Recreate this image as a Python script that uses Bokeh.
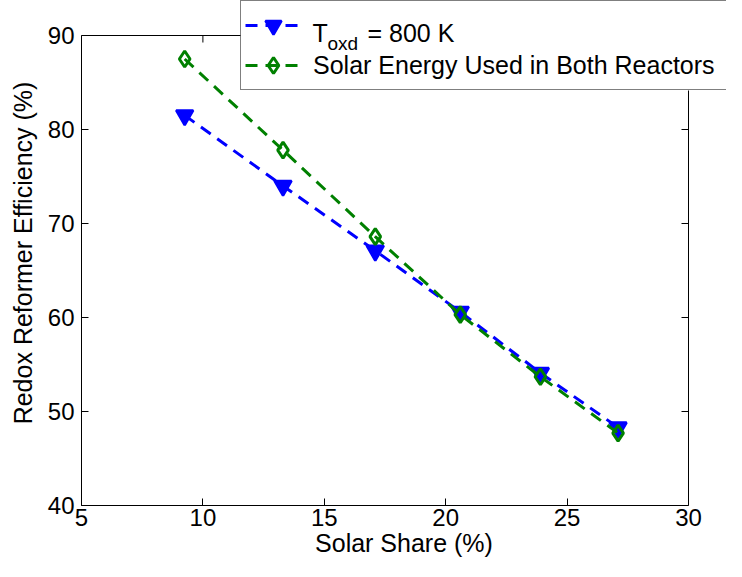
from bokeh.plotting import figure
from bokeh.models import Range1d, Legend, LegendItem, FixedTicker
from bokeh.core.properties import value
from bokeh.embed import file_html
from bokeh.resources import INLINE

# ---- data ----
solar_share = [9.25, 13.3, 17.1, 20.6, 23.9, 27.1]
eff_800K = [81.5, 74.0, 67.1, 60.6, 54.1, 48.3]
eff_both = [87.5, 77.8, 68.6, 60.3, 53.7, 47.7]
x_ticks = [5, 10, 15, 20, 25, 30]
y_ticks = [40, 50, 60, 70, 80, 90]
label_both = "Solar Energy Used in Both Reactors"

FONT = "Liberation Sans"

# ---- layout (pixels on the canvas) ----
W, H = 726, 561
LEFT, BOTTOM_PX, TOP_PX = 81, 505, 35          # frame left, y=40 line, y=90 line
RIGHT_PX = 688                                  # x=30 line
kx = (RIGHT_PX - LEFT) / (x_ticks[-1] - x_ticks[0])
ky = (BOTTOM_PX - TOP_PX) / (y_ticks[-1] - y_ticks[0])
x_end = x_ticks[-1] + (W - RIGHT_PX) / kx
y_end = y_ticks[-1] + TOP_PX / ky

def dx(px):
    return x_ticks[0] + (px - LEFT) / kx

def dy(py):
    return y_ticks[0] + (BOTTOM_PX - py) / ky

p = figure(width=W, height=H, output_backend="svg", toolbar_location=None,
           x_range=Range1d(x_ticks[0], x_end), y_range=Range1d(y_ticks[0], y_end),
           min_border_left=LEFT, min_border_right=0, min_border_top=0,
           min_border_bottom=H - BOTTOM_PX,
           background_fill_color="white", border_fill_color="white")
p.xgrid.visible = False
p.ygrid.visible = False
p.outline_line_color = None

for ax, ticks in ((p.xaxis[0], x_ticks), (p.yaxis[0], y_ticks)):
    ax.ticker = FixedTicker(ticks=ticks)
    ax.bounds = (ticks[0], ticks[-1])
    ax.axis_line_color = "black"
    ax.axis_line_width = 1
    ax.major_tick_in = 7
    ax.major_tick_out = 0
    ax.minor_tick_line_color = None
    ax.major_tick_line_color = "black"
    ax.major_label_text_font = FONT
    ax.major_label_text_font_size = "24px"
    ax.major_label_text_color = "black"
    ax.axis_label_text_font = FONT
    ax.axis_label_text_font_size = "25px"
    ax.axis_label_text_font_style = "normal"
    ax.axis_label_text_color = "black"
p.xaxis.major_label_standoff = 3
p.yaxis.major_label_standoff = 7
p.xaxis.axis_label = "Solar Share (%)"
p.yaxis.axis_label = "Redox Reformer Efficiency (%)"
p.xaxis.axis_label_standoff = 0
p.yaxis.axis_label_standoff = 8

# axes box (top and right edges) with inward ticks
p.quad(left=x_ticks[0], right=x_ticks[-1], bottom=y_ticks[0], top=y_ticks[-1],
       fill_color=None, line_color="black", line_width=1)
inner_x = x_ticks[1:-1]
inner_y = y_ticks[1:-1]
p.segment(x0=inner_x, y0=[y_ticks[-1]] * len(inner_x), x1=inner_x,
          y1=[y_ticks[-1] - 7 / ky] * len(inner_x), line_color="black", line_width=1)
p.segment(x0=[x_ticks[-1]] * len(inner_y), y0=inner_y, x1=[x_ticks[-1] - 7 / kx] * len(inner_y),
          y1=inner_y, line_color="black", line_width=1)

# data series
blue_line = p.line(solar_share, eff_800K, line_color="#0000ff", line_width=3, line_dash="12 8")
blue_mark = p.scatter(solar_share, eff_800K, marker="inverted_triangle", size=17,
                      fill_color="#0000ff", line_color="#0000ff", line_width=2.5)
green_line = p.line(solar_share, eff_both, line_color="#008000", line_width=3, line_dash="12 8")
green_mark = p.scatter(solar_share, eff_both, marker="diamond", size=16,
                       fill_color=None, line_color="#008000", line_width=3)

# ---- legend box (white backing drawn under the legend, then legend on top) ----
LG_L, LG_T, LG_B = 240, 2, 90
PAD, GW, STAND = 4, 56, 12
LG_R = W - 1
p.quad(left=dx(LG_L), right=dx(LG_R), top=dy(LG_T), bottom=dy(LG_B),
       fill_color="white", line_color=None)

text_x0 = LG_L + PAD + GW + STAND
p.text(x=[dx(text_x0)], y=[dy(32)], text=["T"], text_font=value(FONT), text_font_size="25px",
       text_color="black", text_baseline="alphabetic", text_align="left")
p.text(x=[dx(text_x0 + 15)], y=[dy(43)], text=["oxd"], text_font=value(FONT), text_font_size="19px",
       text_color="black", text_baseline="alphabetic", text_align="left")
p.text(x=[dx(text_x0 + 55)], y=[dy(32)], text=["= 800 K"], text_font=value(FONT), text_font_size="25px",
       text_color="black", text_baseline="alphabetic", text_align="left")

legend = Legend(items=[LegendItem(label=" ", renderers=[blue_line, blue_mark]),
                       LegendItem(label=label_both, renderers=[green_line, green_mark])],
                location=(LG_L - LEFT, BOTTOM_PX - LG_B))
legend.border_line_color = "black"
legend.border_line_width = 1
legend.background_fill_color = None
legend.background_fill_alpha = 0
legend.padding = PAD
legend.spacing = 0
legend.margin = 0
legend.glyph_width = GW
legend.glyph_height = 40
legend.label_height = 40
legend.label_standoff = STAND
legend.label_width = LG_R - text_x0 - PAD
legend.label_text_font = FONT
legend.label_text_font_size = "25px"
legend.label_text_color = "black"
p.add_layout(legend)

open("out.html", "w").write(file_html(p, INLINE))
